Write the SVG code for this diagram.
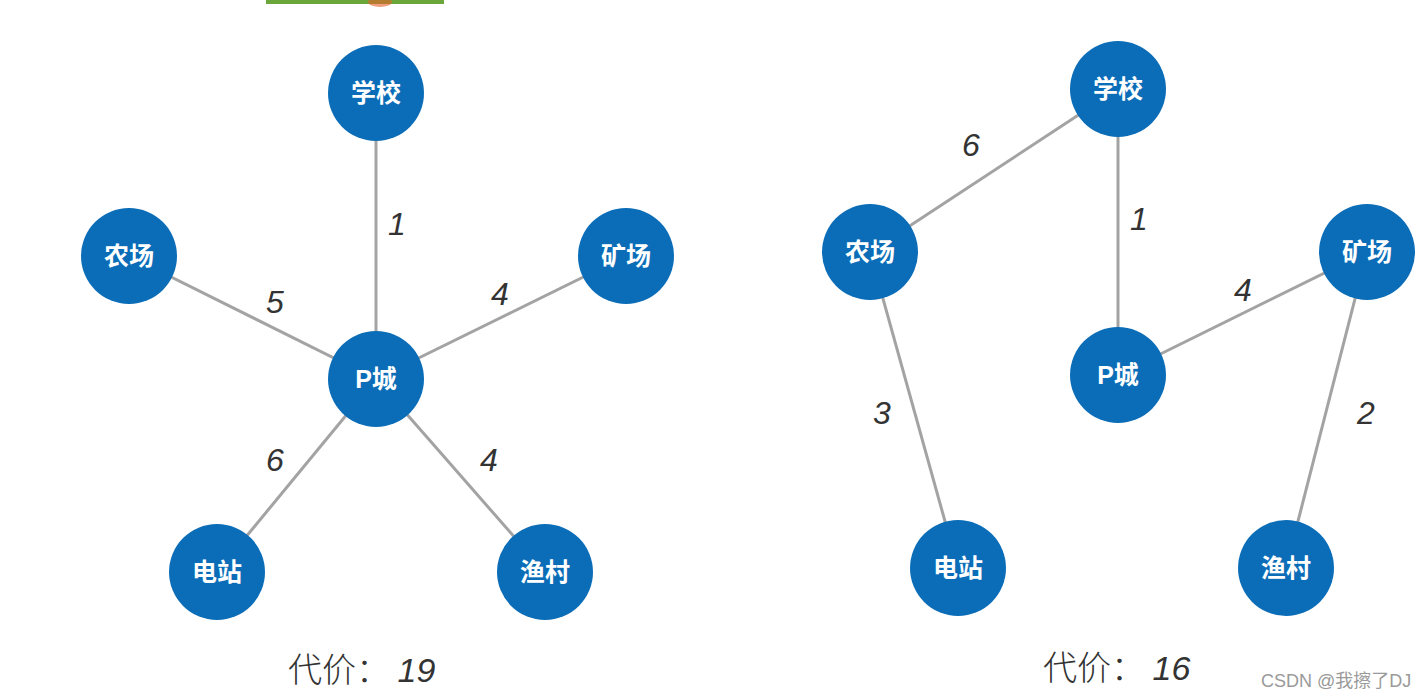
<svg xmlns="http://www.w3.org/2000/svg" width="1426" height="700" viewBox="0 0 1426 700">
  <style>
    .node circle { fill: #0b6db8; }
    .node text { fill: #ffffff; font-family: "Liberation Sans", "Noto Sans CJK SC", sans-serif; font-size: 25px; font-weight: bold; text-anchor: middle; dominant-baseline: central; }
    .edges line { stroke: #a3a3a3; stroke-width: 3; }
    .w { fill: #333333; font-family: "Liberation Sans", sans-serif; font-size: 32px; font-style: italic; text-anchor: middle; dominant-baseline: central; }
    .cost { fill: #333333; font-family: "Noto Sans CJK SC", sans-serif; font-size: 34px; font-weight: 300; }
    .num { font-family: "Liberation Sans", sans-serif; font-style: italic; font-weight: normal; }
    .mark { fill: #9a9a9a; font-family: "Liberation Sans", "Noto Sans CJK SC", sans-serif; font-size: 18px; }
  </style>
  <rect width="1426" height="700" fill="#ffffff"/>
  <!-- header strip -->
  <rect x="266" y="0" width="178" height="4" fill="#6aa63a"/>
  <ellipse cx="380" cy="2" rx="12" ry="5" fill="#e8602a" opacity="0.6"/>

  <!-- left graph: edges -->
  <g class="edges" id="edges-left">
    <line x1="376" y1="93" x2="376" y2="379"/>
    <line x1="129" y1="256" x2="376" y2="379"/>
    <line x1="626" y1="256" x2="376" y2="379"/>
    <line x1="217" y1="572" x2="376" y2="379"/>
    <line x1="545" y1="572" x2="376" y2="379"/>
  </g>
  <g id="weights-left">
    <text class="w" x="397" y="224">1</text>
    <text class="w" x="275" y="302">5</text>
    <text class="w" x="500" y="294">4</text>
    <text class="w" x="275" y="460">6</text>
    <text class="w" x="489" y="460">4</text>
  </g>
  <g class="node" id="L-school"><circle cx="376" cy="93" r="48"/><text x="376" y="93">学校</text></g>
  <g class="node" id="L-farm"><circle cx="129" cy="256" r="48"/><text x="129" y="256">农场</text></g>
  <g class="node" id="L-mine"><circle cx="626" cy="256" r="48"/><text x="626" y="256">矿场</text></g>
  <g class="node" id="L-city"><circle cx="376" cy="379" r="48"/><text x="376" y="379">P城</text></g>
  <g class="node" id="L-power"><circle cx="217" cy="572" r="48"/><text x="217" y="572">电站</text></g>
  <g class="node" id="L-fish"><circle cx="545" cy="572" r="48"/><text x="545" y="572">渔村</text></g>
  <text class="cost" x="288" y="682">代价： <tspan class="num">19</tspan></text>

  <!-- right graph: edges -->
  <g class="edges" id="edges-right">
    <line x1="1118" y1="89" x2="870" y2="252"/>
    <line x1="1118" y1="89" x2="1118" y2="375"/>
    <line x1="1367" y1="252" x2="1118" y2="375"/>
    <line x1="870" y1="252" x2="958" y2="568"/>
    <line x1="1367" y1="252" x2="1286" y2="568"/>
  </g>
  <g id="weights-right">
    <text class="w" x="971" y="145">6</text>
    <text class="w" x="1139" y="219">1</text>
    <text class="w" x="1243" y="290">4</text>
    <text class="w" x="882" y="413">3</text>
    <text class="w" x="1366" y="413">2</text>
  </g>
  <g class="node" id="R-school"><circle cx="1118" cy="89" r="48"/><text x="1118" y="89">学校</text></g>
  <g class="node" id="R-farm"><circle cx="870" cy="252" r="48"/><text x="870" y="252">农场</text></g>
  <g class="node" id="R-mine"><circle cx="1367" cy="252" r="48"/><text x="1367" y="252">矿场</text></g>
  <g class="node" id="R-city"><circle cx="1118" cy="375" r="48"/><text x="1118" y="375">P城</text></g>
  <g class="node" id="R-power"><circle cx="958" cy="568" r="48"/><text x="958" y="568">电站</text></g>
  <g class="node" id="R-fish"><circle cx="1286" cy="568" r="48"/><text x="1286" y="568">渔村</text></g>
  <text class="cost" x="1043" y="680">代价： <tspan class="num">16</tspan></text>

  <text class="mark" x="1261" y="687">CSDN @我擦了DJ</text>
</svg>
